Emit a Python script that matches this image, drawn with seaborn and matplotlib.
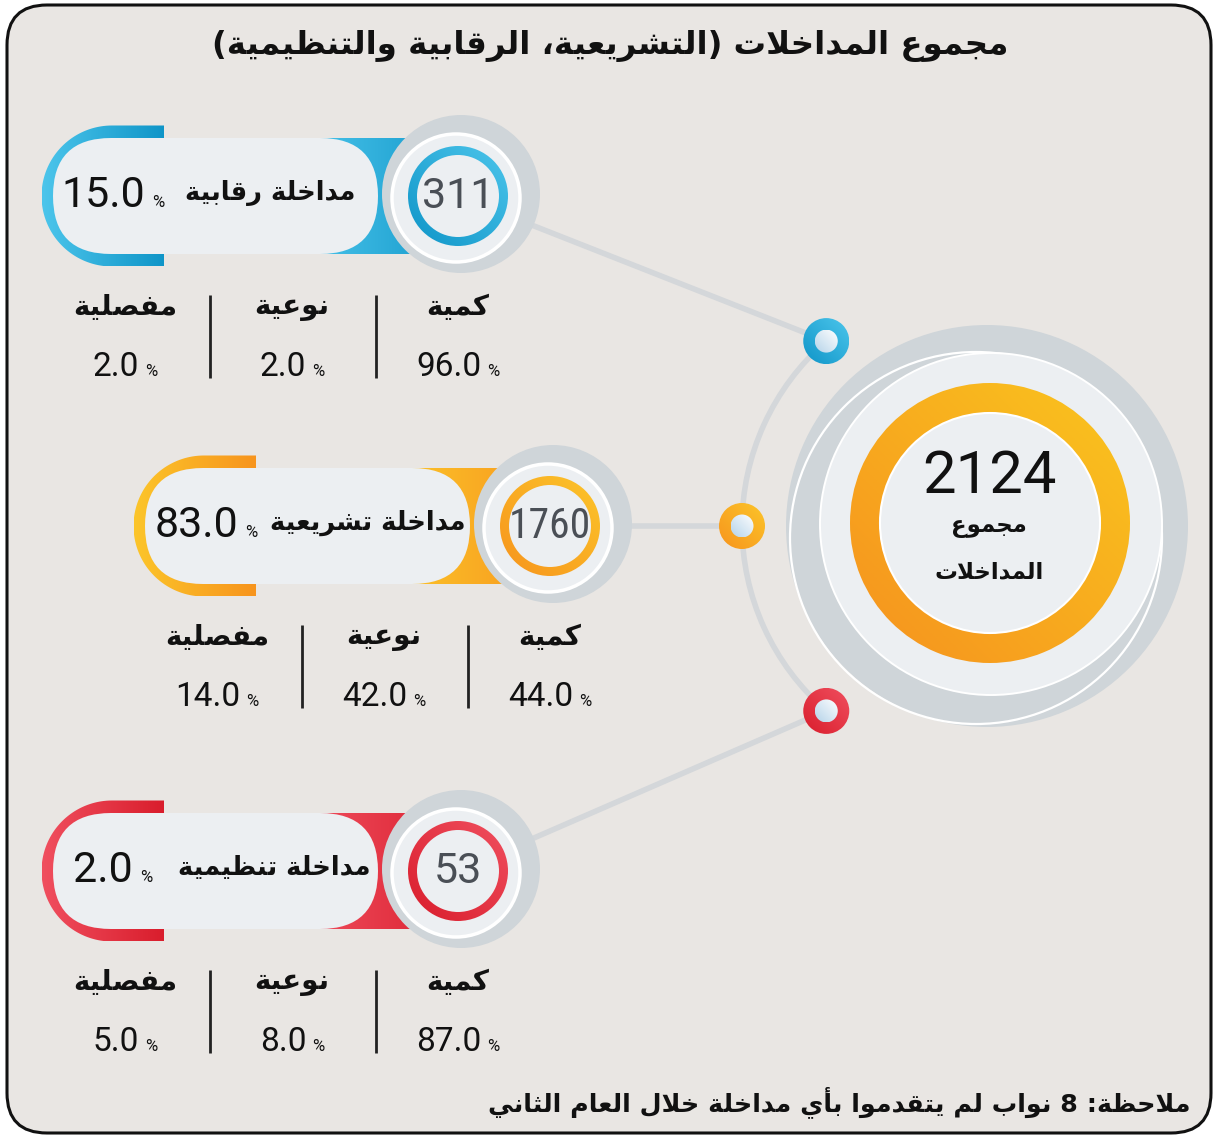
import re
import numpy as np
import matplotlib
matplotlib.use("Agg")
import matplotlib.pyplot as plt
from matplotlib import font_manager
from matplotlib.patches import Circle, Wedge, FancyBboxPatch, PathPatch, Rectangle, Arc
from matplotlib.path import Path
import seaborn as sns

# ---- data ----
categories = ["مداخلة رقابية", "مداخلة تشريعية", "مداخلة تنظيمية"]
counts = [311, 1760, 53]
shares = [15.0, 83.0, 2.0]
sub_labels = ["كمية", "نوعية", "مفصلية"]
sub_kammiya = [96.0, 44.0, 87.0]
sub_nawiya = [2.0, 42.0, 8.0]
sub_mufasala = [2.0, 14.0, 5.0]
total = 2124
total_label = ["مجموع", "المداخلات"]
title = "مجموع المداخلات (التشريعية، الرقابية والتنظيمية)"
note = "ملاحظة: 8 نواب لم يتقدموا بأي مداخلة خلال العام الثاني"

# ---- colours / layout ----
pal = {
    "blue": ("#4CC5EB", "#0F95C8"),
    "orange": ("#FCC52A", "#F7941D"),
    "red": ("#F04F5F", "#D91D2C"),
}
badge_col = ["blue", "orange", "red"]
badge_dx = [0, 92, 0]
badge_cy = [196, 526, 871]
dot_angle = [229, 180, 131]
label_right = [355, 373, 370]
pct_left = [152, 153, 140]
col_x = [458, 292, 125]
sep_x = [210, 376]

BG = "#E9E6E3"
LIGHT = "#ECEFF2"
GREY = "#CFD5D9"
LINE = "#D4D7DA"
TXT = "#111111"
NUM_FONT = ["Roboto", "DejaVu Sans"]
AR_FONT = ["DejaVu Sans"]

_names = {f.name for f in font_manager.fontManager.ttflist}
COND_FONT = ["Roboto Condensed"] if "Roboto Condensed" in _names else None

# ---- minimal arabic shaping (presentation forms + visual order) ----
DUAL = {'ب': 0xFE8F, 'ت': 0xFE95, 'ث': 0xFE99, 'ج': 0xFE9D, 'ح': 0xFEA1, 'خ': 0xFEA5,
        'س': 0xFEB1, 'ش': 0xFEB5, 'ص': 0xFEB9, 'ض': 0xFEBD, 'ط': 0xFEC1, 'ظ': 0xFEC5,
        'ع': 0xFEC9, 'غ': 0xFECD, 'ف': 0xFED1, 'ق': 0xFED5, 'ك': 0xFED9, 'ل': 0xFEDD,
        'م': 0xFEE1, 'ن': 0xFEE5, 'ه': 0xFEE9, 'ي': 0xFEF1}
RIGHT = {'ا': 0xFE8D, 'أ': 0xFE83, 'إ': 0xFE87, 'آ': 0xFE81, 'د': 0xFEA9, 'ذ': 0xFEAB,
         'ر': 0xFEAD, 'ز': 0xFEAF, 'و': 0xFEED, 'ة': 0xFE93, 'ى': 0xFEEF}
LAM_ALEF = {'ا': 0xFEFB, 'أ': 0xFEF7, 'إ': 0xFEF9, 'آ': 0xFEF5}


def shape(text):
    items, i = [], 0
    while i < len(text):
        c = text[i]
        if c == 'ل' and i + 1 < len(text) and text[i + 1] in LAM_ALEF:
            items.append(("LA", text[i + 1]))
            i += 2
        else:
            items.append(("C", c))
            i += 1
    out = []
    for k, (kind, c) in enumerate(items):
        prev = k > 0 and items[k - 1][0] == "C" and items[k - 1][1] in DUAL
        nxt = k + 1 < len(items) and (items[k + 1][0] == "LA" or items[k + 1][1] in DUAL or items[k + 1][1] in RIGHT)
        if kind == "LA":
            out.append(chr(LAM_ALEF[c] + prev))
        elif c in DUAL:
            f = 3 if (prev and nxt) else 1 if prev else 2 if nxt else 0
            out.append(chr(DUAL[c] + f))
        elif c in RIGHT:
            out.append(chr(RIGHT[c] + prev))
        else:
            out.append(c)
    return "".join(out)


def ar(text):
    s = shape(text)[::-1]
    s = re.sub(r"[0-9A-Za-z.]+", lambda m: m.group(0)[::-1], s)
    return s.translate(str.maketrans("()", ")("))


# ---- figure ----
sns.set_theme(style="white")
plt.rcParams["font.family"] = ["DejaVu Sans"]

fig = plt.figure(figsize=(12.15, 11.35), dpi=100)
fig.patch.set_facecolor("white")
ax = fig.add_axes([0, 0, 1, 1])
ax.set_xlim(0, 1215)
ax.set_ylim(1135, 0)
ax.set_autoscale_on(False)
ax.axis("off")
renderer = fig.canvas.get_renderer()

ax.add_patch(FancyBboxPatch((7, 5), 1204, 1128, boxstyle="round,pad=0,rounding_size=40",
                            fc=BG, ec="#111111", lw=2.2, zorder=0))


def grad_fill(patch, c1, c2, z, mode="h"):
    patch.set_facecolor("none")
    patch.set_edgecolor("none")
    patch.set_zorder(z)
    ax.add_patch(patch)
    ext = patch.get_path().transformed(patch.get_patch_transform()).get_extents() \
        if not isinstance(patch, PathPatch) else patch.get_path().get_extents()
    cmap = sns.blend_palette([c1, c2], n_colors=256, as_cmap=True)
    g = np.linspace(0, 1, 200)
    xx, yy = np.meshgrid(g, g)
    arr = xx if mode == "h" else (xx + (1 - yy)) / 2
    im = ax.imshow(arr, cmap=cmap, extent=(ext.x0, ext.x1, ext.y1, ext.y0), origin="upper",
                   aspect="auto", interpolation="bilinear", zorder=z)
    im.set_clip_path(patch)


def num_pct(x, y, value, size, psize, gap, align="center", color=TXT):
    t1 = ax.text(x, y, f"{value:.1f}", fontsize=size, family=NUM_FONT,
                 ha="left", va="baseline", color=color, zorder=10)
    t2 = ax.text(x, y, "%", fontsize=psize, family=NUM_FONT, ha="left", va="baseline",
                 color=color, zorder=10)
    w1 = t1.get_window_extent(renderer).width
    w2 = t2.get_window_extent(renderer).width
    left = x - (w1 + gap + w2) / 2 if align == "center" else x - gap - w1
    t1.set_x(left)
    t2.set_x(left + w1 + gap)


# central circle
C = (987, 526)
CI = (991, 524)
R_ARC = 245
ax.add_patch(Arc(C, 2 * R_ARC, 2 * R_ARC, theta1=131, theta2=229, color=LINE, lw=4, zorder=1))
dots = [(C[0] + R_ARC * np.cos(np.radians(a)), C[1] + R_ARC * np.sin(np.radians(a))) for a in dot_angle]

for i in range(3):
    dx, cy = badge_dx[i], badge_cy[i]
    ax.plot([dots[i][0], dx + 458], [dots[i][1], cy], color=LINE, lw=4, solid_capstyle="butt", zorder=1)

ax.add_patch(Circle(C, 201, fc=GREY, ec="none", zorder=2))
ax.add_patch(Circle((976, 538), 186, fc="none", ec="white", lw=1.6, zorder=2))
ax.add_patch(Circle(CI, 171, fc=LIGHT, ec="white", lw=1.4, zorder=3))
grad_fill(Wedge((990, 523), 140, 0, 360, width=30), "#F6921E", "#FAC51E", 4, mode="d")
ax.add_patch(Circle((990, 523), 110, fc=LIGHT, ec="white", lw=1.5, zorder=5))
ax.text(989, 493, f"{total}", fontsize=43, family=NUM_FONT,
        ha="center", va="baseline", color=TXT, zorder=10)
ax.text(989, 527, ar(total_label[0]), fontsize=16.5, family=AR_FONT, fontweight="bold",
        ha="center", va="center", color=TXT, zorder=10)
ax.text(989, 572, ar(total_label[1]), fontsize=16.5, family=AR_FONT, fontweight="bold",
        ha="center", va="center", color=TXT, zorder=10)

# dots
for i, (x, y) in enumerate(dots):
    c1, c2 = pal[badge_col[i]]
    grad_fill(Circle((x, y), 23), c2, c1, 6, mode="d")
    grad_fill(Circle((x, y), 11.5), "#B5D3E9", "#FFFFFF", 7, mode="d")

# badges
sub_values = [sub_kammiya, sub_nawiya, sub_mufasala]
for i in range(3):
    dx, cy = badge_dx[i], badge_cy[i]
    c1, c2 = pal[badge_col[i]]
    cx, r = dx + 112, 70.5
    t = np.linspace(np.pi / 2, 3 * np.pi / 2, 80)
    verts = list(zip(cx + r * np.cos(t), cy + r * np.sin(t)))
    verts += [(dx + 164, cy - r), (dx + 164, cy + r), (cx, cy + r)]
    grad_fill(PathPatch(Path(verts, closed=True)), c1, c2, 2)
    grad_fill(Rectangle((dx + 300, cy - 58), 170, 116), c1, c2, 2)
    ax.add_patch(Circle((dx + 461, cy - 2), 79, fc=GREY, ec="none", zorder=3))
    ax.add_patch(FancyBboxPatch((dx + 53, cy - 58), 325, 116,
                                boxstyle="round,pad=0,rounding_size=58", fc=LIGHT, ec="none", zorder=4))
    ax.add_patch(Circle((dx + 456, cy + 2), 64, fc=LIGHT, ec="white", lw=2.5, zorder=5))
    grad_fill(Wedge((dx + 458, cy), 50, 0, 360, width=9), c2, c1, 6, mode="d")

    # circle number
    if counts[i] >= 1000:
        fam, size = (COND_FONT, 30) if COND_FONT else (NUM_FONT, 24)
    else:
        fam, size = NUM_FONT, 31
    ax.text(dx + 458, cy + 12, f"{counts[i]}", fontsize=size, family=fam,
            ha="center", va="baseline", color="#4A4F56", zorder=10)
    # pill text
    ax.text(dx + label_right[i], cy - 3, ar(categories[i]), fontsize=18.5, family=AR_FONT,
            fontweight="bold", ha="right", va="center", color=TXT, zorder=10)
    num_pct(dx + pct_left[i], cy + 11, shares[i], 31, 12, 7, align="pct")

    # breakdown row
    for j in range(3):
        x = dx + col_x[j]
        ax.text(x, cy + 111, ar(sub_labels[j]), fontsize=20, family=AR_FONT, fontweight="bold",
                ha="center", va="center", color=TXT, zorder=10)
        num_pct(x, cy + 180, sub_values[j][i], 24, 12, 6)
    ax.vlines([dx + s for s in sep_x], cy + 99, cy + 182, color="#222222", lw=2, zorder=10)

ax.text(610, 46, ar(title), fontsize=23.3, family=AR_FONT, fontweight="bold",
        ha="center", va="center", color=TXT, zorder=10)
ax.text(1190, 1102, ar(note), fontsize=18.3, family=AR_FONT, fontweight="bold",
        ha="right", va="center", color=TXT, zorder=10)

fig.savefig("out.png", dpi=100, facecolor="white")
